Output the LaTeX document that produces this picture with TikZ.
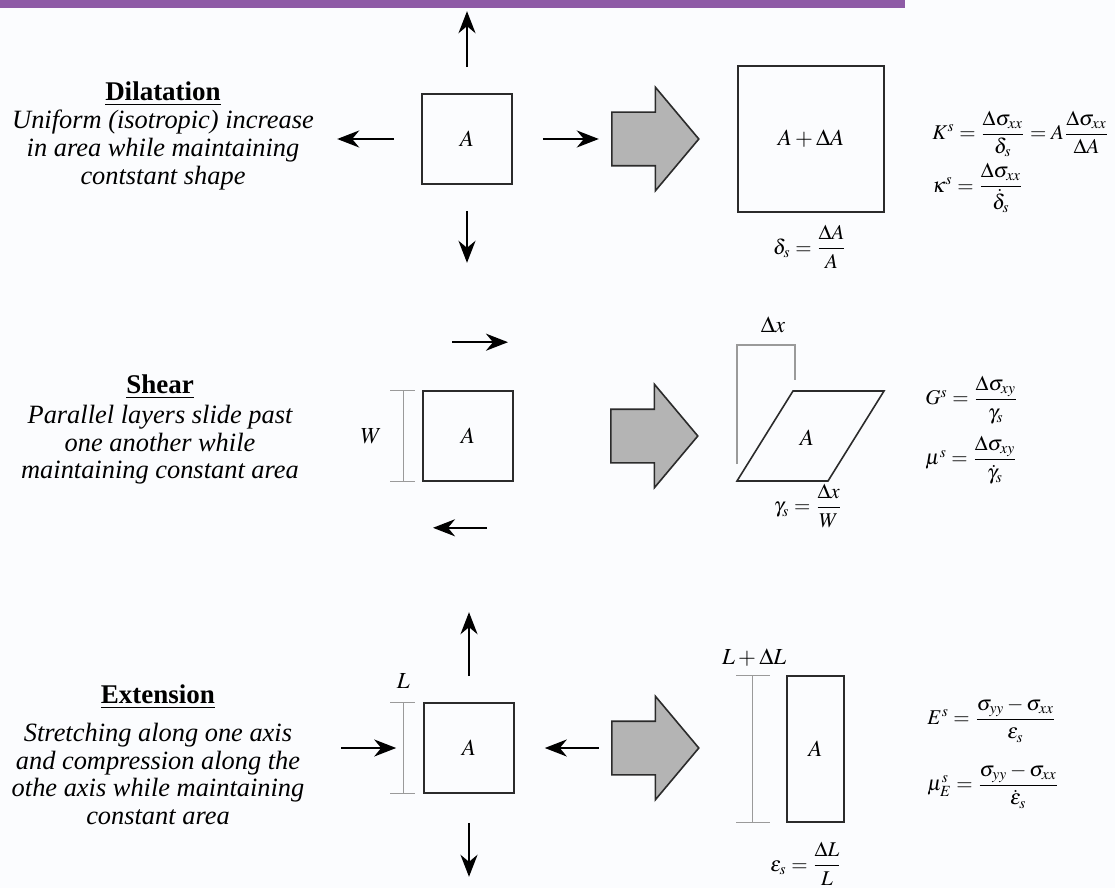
\documentclass[tikz,border=0pt]{standalone}
\usepackage{amsmath}
\usepackage{mathptmx}
\usepackage[no-math]{fontspec}
\setmainfont{Liberation Serif}
\usetikzlibrary{arrows.meta,positioning,shapes.arrows}
\definecolor{plum}{HTML}{8E5BA6}
\definecolor{ink}{HTML}{2B2B2B}
\definecolor{dimgray}{HTML}{9A9A9A}
\definecolor{blockgray}{HTML}{B4B4B4}
\definecolor{paper}{HTML}{FBFCFE}

\begin{document}
\begin{tikzpicture}[x=0.5pt,y=-0.5pt,
  sq/.style={draw=ink, line width=0.8pt, minimum width=45pt, minimum height=45pt, inner sep=0pt, font=\fontsize{11.5}{13}\selectfont},
  force/.style={line width=1.1pt, -{Stealth[length=11pt,width=8.5pt,inset=3.5pt]}},
  dim/.style={draw=dimgray, line width=0.6pt},
  bigarrow/.style={single arrow, draw=ink, fill=blockgray, line width=0.8pt, minimum height=43.5pt, inner xsep=0pt, inner ysep=13pt, single arrow head extend=12.5pt, single arrow tip angle=100},
  title/.style={font=\fontsize{13.5}{15}\selectfont\bfseries, inner sep=0pt},
  desc/.style={align=center, font=\fontsize{13.2}{13.8}\selectfont\itshape, inner sep=0pt},
  eq/.style={anchor=west, inner sep=0pt, font=\fontsize{10.5}{12}\selectfont},
  lbl/.style={font=\fontsize{11.5}{13}\selectfont, inner sep=0pt},
  rel/.style={font=\fontsize{10.5}{12}\selectfont, inner sep=0pt}]
\useasboundingbox (0,0) rectangle (1115,888);
\fill[paper] (0,0) rectangle (1115,888);
\fill[plum] (0,0) rectangle (905,8);

% dilatation
\node[title] (dil) at (163,94) {\underline{Dilatation}};
\node[desc] (dildesc) at (163,150) {Uniform (isotropic) increase\\ in area while maintaining\\ contstant shape};
\node[sq] (sqd) at (467,139) {$A$};
\draw[force] ([yshift=13pt]sqd.north) -- ++(0,-56);
\draw[force] ([yshift=-13pt]sqd.south) -- ++(0,52);
\draw[force] ([xshift=-13.5pt]sqd.west) -- ++(-57,0);
\draw[force] ([xshift=15pt]sqd.east) -- ++(56,0);
\node[bigarrow, anchor=tail] (bd) at (611,139) {};
\node[sq, minimum width=73pt, minimum height=73pt] (sqd2) at (811,139) {$A+\Delta A$};
\node[rel] (deltas) at (810,247) {$\delta_s=\dfrac{\Delta A}{A}$};
\node[eq] (bulk) at (932,134) {$K^s=\dfrac{\Delta\sigma_{xx}}{\delta_s}=A\dfrac{\Delta\sigma_{xx}}{\Delta A}$};
\node[eq] (bulkv) at (932,188) {$\kappa^s=\dfrac{\Delta\sigma_{xx}}{\dot{\delta}_s}$};

% shear
\node[title] (shr) at (160,387) {\underline{Shear}};
\node[desc] (shrdesc) at (160,445) {Parallel layers slide past\\ one another while\\ maintaining constant area};
\node[sq] (sqs) at (468,436) {$A$};
\draw[force] ([shift={(-16,-48)}]sqs.north) -- ++(56,0);
\draw[force] ([shift={(19,46)}]sqs.south) -- ++(-54,0);
\draw[dim] ([shift={(-32,0)}]sqs.north west) -- ++(25,0)
  ([shift={(-32,0)}]sqs.south west) -- ++(25,0)
  ([shift={(-19,0)}]sqs.north west) -- ([shift={(-19,0)}]sqs.south west);
\node[lbl] (w) at ([shift={(-51,0)}]sqs.west) {$W$};
\node[bigarrow, anchor=tail] (bs) at (610,436) {};
\draw[ink, line width=0.8pt] (737,481) -- (828,481) -- (884,391) -- (793,391) -- cycle;
\node[lbl] (sqs2) at (807,438) {$A$};
\draw[dim] (737,464) -- (737,345) -- (795,345) -- (795,380);
\node[lbl] (dx) at (773,325) {$\Delta x$};
\node[rel] (gammas) at (808,506) {$\gamma_s=\dfrac{\Delta x}{W}$};
\node[eq] (shmod) at (925,400) {$G^s=\dfrac{\Delta\sigma_{xy}}{\gamma_s}$};
\node[eq] (shvisc) at (925,460) {$\mu^s=\dfrac{\Delta\sigma_{xy}}{\dot{\gamma}_s}$};

% extension
\node[title] (ext) at (158,697) {\underline{Extension}};
\node[desc] (extdesc) at (158,774) {Stretching along one axis\\ and compression along the\\ othe axis while maintaining\\ constant area};
\node[sq] (sqe) at (469,748) {$A$};
\draw[force] ([yshift=13pt]sqe.north) -- ++(0,-64);
\draw[force] ([yshift=-14.5pt]sqe.south) -- ++(0,54);
\draw[force] ([xshift=-41pt]sqe.west) -- ++(55,0);
\draw[force] ([xshift=42pt]sqe.east) -- ++(-54,0);
\draw[dim] ([shift={(-33,0)}]sqe.north west) -- ++(25,0)
  ([shift={(-33,0)}]sqe.south west) -- ++(25,0)
  ([shift={(-20,0)}]sqe.north west) -- ([shift={(-20,0)}]sqe.south west);
\node[lbl] (l) at ([shift={(-20,-21)}]sqe.north west) {$L$};
\node[bigarrow, anchor=tail] (be) at (611,748) {};
\node[sq, minimum width=28.5pt, minimum height=73pt] (sqe2) at (815.5,749) {$A$};
\draw[dim] ([shift={(-50,0)}]sqe2.north west) -- ++(34,0)
  ([shift={(-50,0)}]sqe2.south west) -- ++(34,0)
  ([shift={(-34,0)}]sqe2.north west) -- ([shift={(-34,0)}]sqe2.south west);
\node[lbl] (ldl) at ([shift={(-32,-18)}]sqe2.north west) {$L+\Delta L$};
\node[rel] (epss) at (806,864) {$\varepsilon_s=\dfrac{\Delta L}{L}$};
\node[eq] (young) at (927,720) {$E^s=\dfrac{\sigma_{yy}-\sigma_{xx}}{\varepsilon_s}$};
\node[eq] (extvisc) at (927,786) {$\mu^s_E=\dfrac{\sigma_{yy}-\sigma_{xx}}{\dot{\varepsilon}_s}$};
\end{tikzpicture}
\end{document}
